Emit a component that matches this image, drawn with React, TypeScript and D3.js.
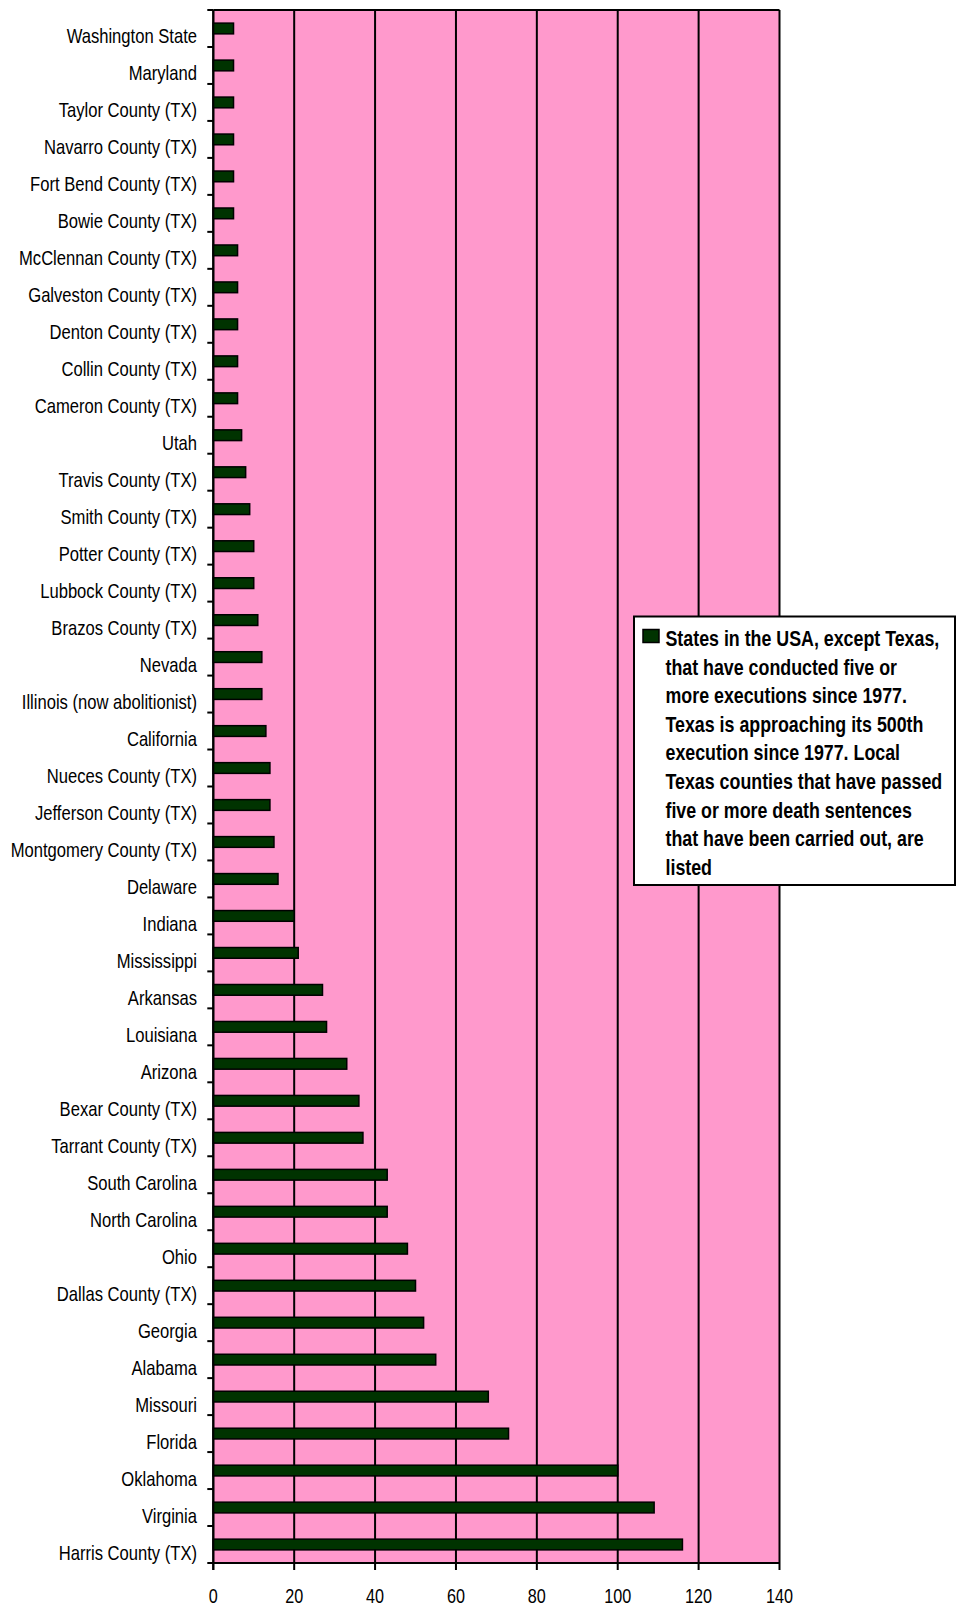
import * as d3 from "d3";

const categories = [
  "Washington State", "Maryland", "Taylor County (TX)", "Navarro County (TX)",
  "Fort Bend County (TX)", "Bowie County (TX)", "McClennan County (TX)",
  "Galveston County (TX)", "Denton County (TX)", "Collin County (TX)",
  "Cameron County (TX)", "Utah", "Travis County (TX)", "Smith County (TX)",
  "Potter County (TX)", "Lubbock County (TX)", "Brazos County (TX)", "Nevada",
  "Illinois (now abolitionist)", "California", "Nueces County (TX)",
  "Jefferson County (TX)", "Montgomery County (TX)", "Delaware", "Indiana",
  "Mississippi", "Arkansas", "Louisiana", "Arizona", "Bexar County (TX)",
  "Tarrant County (TX)", "South Carolina", "North Carolina", "Ohio",
  "Dallas County (TX)", "Georgia", "Alabama", "Missouri", "Florida",
  "Oklahoma", "Virginia", "Harris County (TX)",
];

const executions = [
  5, 5, 5, 5, 5, 5, 6, 6, 6, 6, 6, 7, 8, 9, 10, 10, 11, 12, 12, 13, 14, 14,
  15, 16, 20, 21, 27, 28, 33, 36, 37, 43, 43, 48, 50, 52, 55, 68, 73, 100,
  109, 116,
];

const xTicks = [0, 20, 40, 60, 80, 100, 120, 140];

const legendLines = [
  "States in the USA, except Texas,",
  "that have conducted five or",
  "more executions since 1977.",
  "Texas is approaching its 500th",
  "execution since 1977. Local",
  "Texas counties that have passed",
  "five or more death sentences",
  "that have been carried out, are",
  "listed",
];

// narrow look: Liberation Sans squeezed horizontally
const font = "'Liberation Sans', Arial, sans-serif";
const squeeze = 0.81;

export default function App() {
  const width = 957;
  const height = 1607;
  const plot = { left: 213.3, right: 779.5, top: 10, bottom: 1563 };

  const x = d3.scaleLinear().domain([0, 140]).range([plot.left, plot.right]);
  const y = d3.scaleBand().domain(categories).range([plot.top, plot.bottom]).padding(0);
  const bw = y.bandwidth();
  const barH = bw * 0.29;

  return (
    <div style={{ position: "absolute", left: 0, top: 0 }}>
      <svg width={width} height={height} viewBox={`0 0 ${width} ${height}`} style={{ display: "block" }}>
        <rect x={0} y={0} width={width} height={height} fill="#ffffff" />
        <rect
          x={plot.left}
          y={plot.top}
          width={plot.right - plot.left}
          height={plot.bottom - plot.top}
          fill="#ff99cc"
        />
        {xTicks.map((t) => (
          <g key={t}>
            <line x1={x(t)} x2={x(t)} y1={plot.top} y2={plot.bottom + 7} stroke="#000" strokeWidth={2} />
            <text
              transform={`translate(${x(t)},1602.5) scale(${squeeze},1)`}
              textAnchor="middle"
              fontFamily={font}
              fontSize={20}
              fill="#000"
            >
              {t}
            </text>
          </g>
        ))}
        <line x1={plot.left} x2={plot.right} y1={plot.top} y2={plot.top} stroke="#000" strokeWidth={2} />
        <line x1={plot.left} x2={plot.right} y1={plot.bottom} y2={plot.bottom} stroke="#000" strokeWidth={2} />
        {categories.map((c, i) => (
          <line
            key={"t" + i}
            x1={plot.left - 6}
            x2={plot.left}
            y1={y(c) ?? 0}
            y2={y(c) ?? 0}
            stroke="#000"
            strokeWidth={2}
          />
        ))}
        <line x1={plot.left - 6} x2={plot.left} y1={plot.bottom} y2={plot.bottom} stroke="#000" strokeWidth={2} />
        {categories.map((c, i) => {
          const cy = (y(c) ?? 0) + bw / 2;
          return (
            <g key={c}>
              <rect
                x={x(0)}
                y={cy - barH / 2}
                width={x(executions[i]) - x(0)}
                height={barH}
                fill="#003300"
                stroke="#000"
                strokeWidth={1.5}
              />
              <text
                transform={`translate(197,${cy + 15}) scale(${squeeze},1)`}
                textAnchor="end"
                fontFamily={font}
                fontSize={20.5}
                fill="#000"
              >
                {c}
              </text>
            </g>
          );
        })}
        <line x1={plot.left} x2={plot.left} y1={plot.top} y2={plot.bottom + 7} stroke="#000" strokeWidth={2} />

        <g>
          <rect x={634} y={616.5} width={321} height={268.5} fill="#ffffff" stroke="#000" strokeWidth={2} />
          <rect x={643} y={629.5} width={16} height={13} fill="#003300" stroke="#000" strokeWidth={1.5} />
          {legendLines.map((l, i) => (
            <text
              key={i}
              transform={`translate(665.5,${646 + i * 28.6}) scale(${squeeze},1)`}
              fontFamily={font}
              fontSize={22}
              fontWeight="bold"
              fill="#000"
            >
              {l}
            </text>
          ))}
        </g>
      </svg>
    </div>
  );
}
